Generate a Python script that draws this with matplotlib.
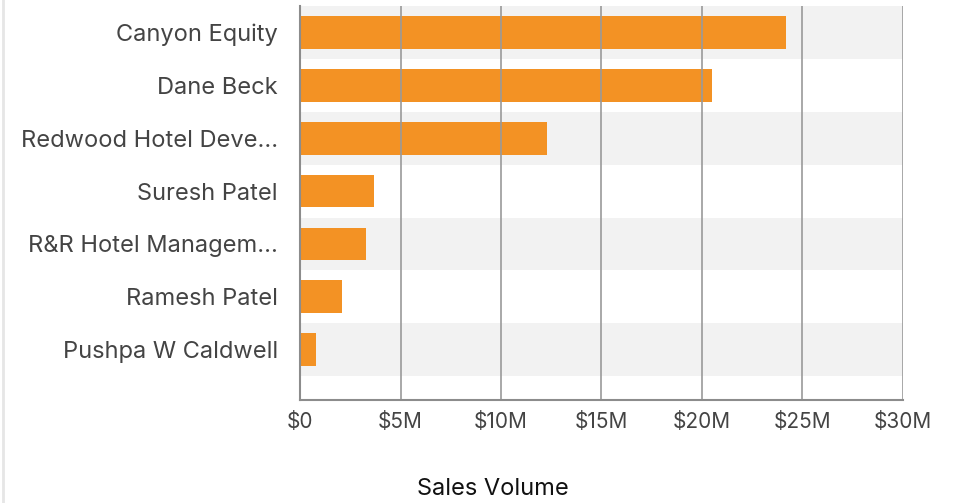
import matplotlib.pyplot as plt
from matplotlib.lines import Line2D

plt.rcParams['font.family'] = ['Inter', 'DejaVu Sans']

names = ['Canyon Equity', 'Dane Beck', 'Redwood Hotel Deve...', 'Suresh Patel',
         'R&R Hotel Managem...', 'Ramesh Patel', 'Pushpa W Caldwell']
sales = [24.2, 20.5, 12.3, 3.7, 3.3, 2.1, 0.8]  # $M
xticks = [0, 5, 10, 15, 20, 25, 30]
xtick_labels = ['$0', '$5M', '$10M', '$15M', '$20M', '$25M', '$30M']

W, H = 957, 503
fig = plt.figure(figsize=(W / 100, H / 100), dpi=100)
ax = fig.add_axes([300 / W, 1 - 400 / H, 603 / W, 394 / H])

for i in range(len(names)):
    if i % 2 == 0:
        ax.axhspan(i - 0.5, i + 0.5, color='#f2f2f2', zorder=0, lw=0)

ax.barh(range(len(names)), sales, height=0.62, color='#f39224', zorder=2)

for x in xticks[1:]:
    ax.axvline(x, color='#9a9a9a', lw=1.2, zorder=3)

ax.set_xlim(0, 30)
ax.set_ylim(6.95, -0.5)
ax.set_xticks(xticks)
ax.set_xticklabels(xtick_labels)
ax.set_yticks(range(len(names)))
ax.set_yticklabels(names)
ax.tick_params(axis='both', length=0, labelcolor='#444444')
ax.tick_params(axis='x', labelsize=15, pad=9)
ax.tick_params(axis='y', labelsize=17, pad=16)

for s in ['top', 'right']:
    ax.spines[s].set_visible(False)
for s in ['left', 'bottom']:
    ax.spines[s].set_color('#8c8c8c')
    ax.spines[s].set_linewidth(1.5)
    ax.spines[s].set_zorder(4)

fig.text(493 / W, 1 - 489 / H, 'Sales Volume', ha='center', va='center',
         fontsize=17, color='#111111')
fig.add_artist(Line2D([2.5 / W, 2.5 / W], [0, 1], color='#e6e6e6', lw=2,
                      transform=fig.transFigure))

fig.savefig('out.png', dpi=100)
